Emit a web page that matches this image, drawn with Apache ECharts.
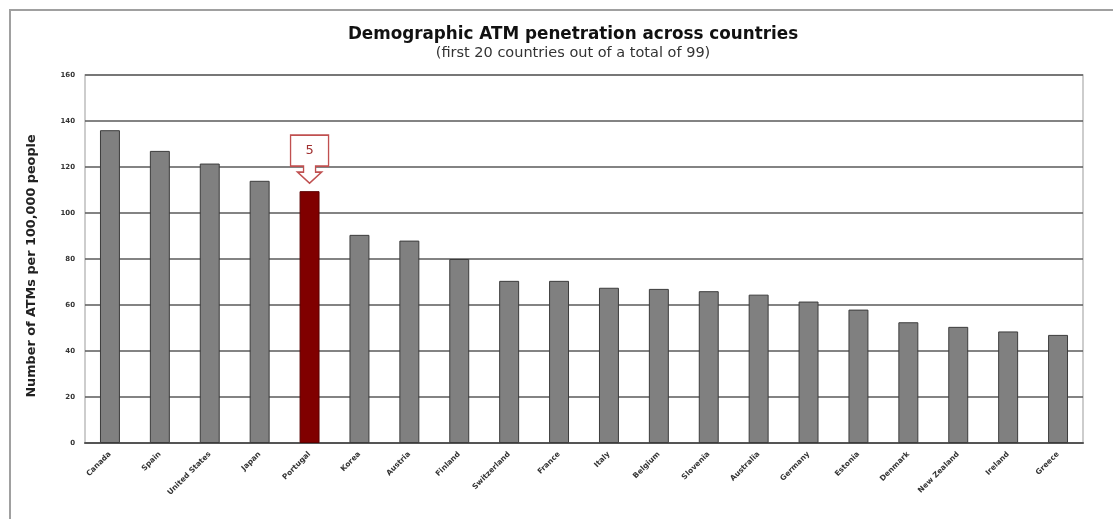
<!DOCTYPE html>
<html>
<head>
<meta charset="utf-8">
<script src="https://cdn.jsdelivr.net/npm/echarts@6/dist/echarts.min.js"></script>
<style>
  html, body { margin: 0; padding: 0; background: #fff; }
  #chart { width: 1113px; height: 519px; }
</style>
</head>
<body>
<div id="chart"></div>
<script>
// Countries ranked by ATMs per 100,000 people (top 20 of 99)
const countries = ['Canada', 'Spain', 'United States', 'Japan', 'Portugal', 'Korea', 'Austria', 'Finland',
  'Switzerland', 'France', 'Italy', 'Belgium', 'Slovenia', 'Australia', 'Germany', 'Estonia',
  'Denmark', 'New Zealand', 'Ireland', 'Greece'];
const atmsPer100k = [136, 127, 121.5, 114, 109.5, 90.5, 88, 80, 70.5, 70.5, 67.5, 67, 66, 64.5, 61.5, 58, 52.5, 50.5, 48.5, 47];
const highlighted = 'Portugal';
const highlightRank = '5';
const yTicks = [0, 20, 40, 60, 80, 100, 120, 140, 160];

const FONT = 'DejaVu Sans, Verdana, sans-serif';
const hiIndex = countries.indexOf(highlighted);

const chart = echarts.init(document.getElementById('chart'), null, { renderer: 'canvas' });

chart.setOption({
  backgroundColor: '#fff',
  animation: false,
  title: {
    text: 'Demographic ATM penetration across countries',
    subtext: '(first 20 countries out of a total of 99)',
    left: 568,
    textAlign: 'center',
    top: 21,
    itemGap: 3,
    textStyle: { fontFamily: FONT, fontSize: 16.8, fontWeight: 'bold', color: '#111' },
    subtextStyle: { fontFamily: FONT, fontSize: 14.5, color: '#333' }
  },
  graphic: [{
    type: 'rect',
    shape: { x: 10, y: 10, width: 1200, height: 600 },
    style: { fill: 'none', stroke: '#a0a0a0', lineWidth: 2 },
    silent: true,
    z: -1
  }],
  grid: {
    left: 85, right: 30, top: 75, bottom: 76,
    show: true, borderColor: '#bdbdbd', borderWidth: 1.5, backgroundColor: 'transparent'
  },
  xAxis: {
    type: 'category',
    data: countries,
    axisLine: { lineStyle: { color: '#555', width: 2 } },
    axisTick: { show: false },
    axisLabel: {
      rotate: 45, interval: 0, margin: 10,
      fontFamily: FONT, fontSize: 7.5, fontWeight: 'bold', color: '#333'
    }
  },
  yAxis: {
    type: 'value',
    min: yTicks[0], max: yTicks[yTicks.length - 1], interval: yTicks[1] - yTicks[0],
    name: 'Number of ATMs per 100,000 people',
    nameLocation: 'middle',
    nameGap: 47,
    nameTextStyle: { fontFamily: FONT, fontSize: 12.8, fontWeight: 'bold', color: '#222', padding: [0, 14, 0, 0] },
    axisLine: { show: false },
    axisTick: { show: false },
    axisLabel: { fontFamily: FONT, fontSize: 7, fontWeight: 'bold', color: '#333', margin: 10 },
    splitLine: { lineStyle: { color: '#5a5a5a', width: 1.5 } }
  },
  series: [{
    type: 'bar',
    data: atmsPer100k.map((v, i) => ({
      value: v,
      itemStyle: i === hiIndex
        ? { color: '#800000', borderColor: '#5a0000', borderWidth: 1 }
        : { color: '#808080', borderColor: '#3c3c3c', borderWidth: 1 }
    })),
    barWidth: '40%',
    markPoint: {
      data: [{ coord: [hiIndex, atmsPer100k[hiIndex]] }],
      symbol: 'path://M0 0 L38 0 L38 31 L25 31 L25 37 L31 37 L19 48 L7 37 L13 37 L13 31 L0 31 Z',
      symbolSize: [38, 48],
      symbolKeepAspect: false,
      symbolOffset: [0, -32],
      itemStyle: { color: '#fff', borderColor: '#c05050', borderWidth: 1.5 },
      label: {
        show: true,
        formatter: highlightRank,
        offset: [0, -9],
        fontFamily: FONT, fontSize: 13, color: '#a03030'
      }
    }
  }]
});
</script>
</body>
</html>
